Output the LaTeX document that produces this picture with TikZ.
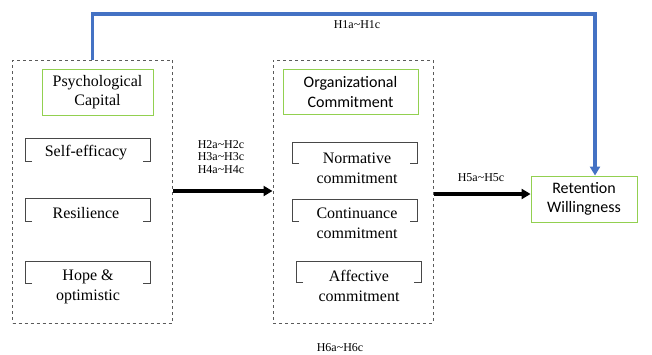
\documentclass[tikz,border=0pt]{standalone}
\usepackage{fontspec}
\setmainfont{Liberation Serif}
\newfontfamily\tnr{Liberation Serif}
\newfontfamily\cali{Carlito}
\usetikzlibrary{arrows.meta}
\definecolor{boxgreen}{RGB}{146,208,80}
\definecolor{linkblue}{RGB}{68,114,196}
\definecolor{dashgray}{RGB}{90,90,90}
\tikzset{
  group/.style={draw=dashgray,dashed,line width=1pt,minimum width=160pt,minimum height=263pt,inner sep=0pt},
  title/.style={draw=boxgreen,line width=0.9pt,align=center,inner sep=0pt,font=\tnr\fontsize{16}{19}\selectfont},
  item/.style={align=center,inner sep=0pt,font=\tnr\fontsize{16}{20}\selectfont},
  hyp/.style={align=center,inner sep=0pt,font=\tnr\fontsize{12}{12.5}\selectfont},
  brk/.style={draw=dashgray!80!black,line width=0.9pt},
  link/.style={line width=3.2pt,-{Triangle[length=9pt,width=10pt]}},
}
\begin{document}
\begin{tikzpicture}[x=1pt,y=-1pt]
\useasboundingbox (0,0) rectangle (652,354);
% groups
\node[group] (pc) at (92.5,191.5) {};
\node[group] (oc) at (353,191.5) {};
% titles
\node[title,minimum width=111pt,minimum height=46pt] (pctitle) at (97.5,92) {Psychological\\Capital};
\node[title,minimum width=135pt,minimum height=45pt,font=\cali\fontsize{16}{20}\selectfont] (octitle) at (350.5,91.5) {Organizational\\Commitment};
\node[title,minimum width=106pt,minimum height=46pt,font=\cali\fontsize{16}{19}\selectfont] (ret) at (584,199) {Retention\\Willingness};
% items
\node[item] (selfeff) at (86,153) {Self-efficacy};
\node[item] (resil) at (86,213) {Resilience};
\node[item] (hope) at (88,287) {Hope \&\\optimistic};
\node[item] (norm) at (357,168) {Normative\\commitment};
\node[item] (cont) at (357,223) {Continuance\\commitment};
\node[item] (affe) at (359,286) {Affective\\commitment};
% brackets
\foreach \xa/\ya/\xb/\yb in {25/138/150/161, 25/198/150/221, 25/261/150/283,
    292/142/417/163, 292/199/417/221, 296/261/421/282}
  \draw[brk] (\xa+7,\yb) -- (\xa,\yb) -- (\xa,\ya) -- (\xb,\ya) -- (\xb,\yb) -- (\xb-7,\yb);
% connectors
\draw[link] (pc.east |- 0,191) -- (oc.west |- 0,191);
\draw[link] (oc.east |- 0,194) -- (ret.west |- 0,194);
\draw[link,draw=linkblue] (pc.north) |- (595,14) -- ([xshift=11pt]ret.north);
% labels
\node[hyp] (h1) at (357,25) {H1a\textasciitilde H1c};
\node[hyp] (h2) at (221,157) {H2a\textasciitilde H2c\\H3a\textasciitilde H3c\\H4a\textasciitilde H4c};
\node[hyp] (h5) at (481,178) {H5a\textasciitilde H5c};
\node[hyp] (h6) at (340,348) {H6a\textasciitilde H6c};
\end{tikzpicture}
\end{document}
